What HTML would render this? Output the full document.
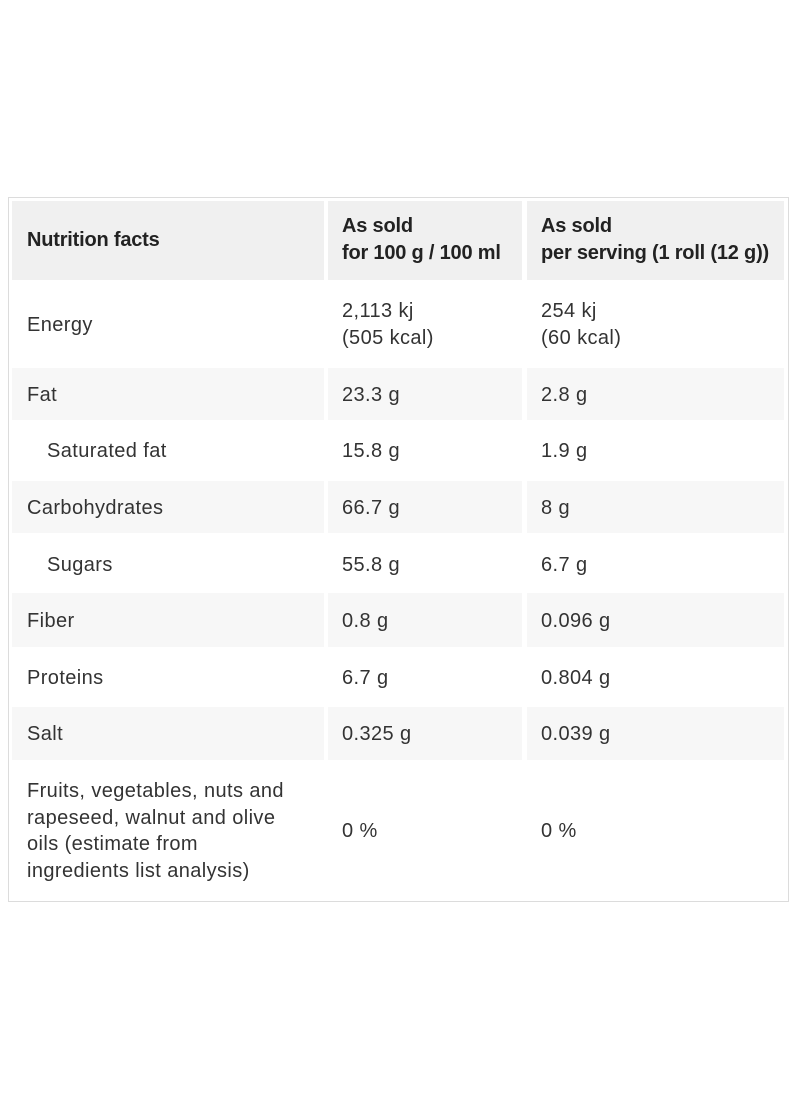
<!DOCTYPE html>
<html><head><meta charset="utf-8"><style>
body{margin:0;width:800px;height:1100px;background:#fff;position:relative;font-family:"Liberation Sans",sans-serif;color:#333;font-size:20px;letter-spacing:0.4px;}
.box{position:absolute;left:8px;top:197px;width:779px;height:703px;border:1px solid #dcdcdc;}
.c{position:absolute;}
.t{position:absolute;white-space:nowrap;line-height:27px;}
.b{font-weight:bold;color:#222;letter-spacing:-0.2px;}
</style></head><body>
<div class="box"></div>
<div class="c" style="left:12px;top:201px;width:312px;height:79px;background:#f0f0f0"></div>
<div class="c" style="left:328px;top:201px;width:194px;height:79px;background:#f0f0f0"></div>
<div class="c" style="left:527px;top:201px;width:257px;height:79px;background:#f0f0f0"></div>
<div class="c" style="left:12px;top:368px;width:772px;height:52px;background:#f7f7f7"></div>
<div class="c" style="left:12px;top:481px;width:772px;height:52px;background:#f7f7f7"></div>
<div class="c" style="left:12px;top:593px;width:772px;height:54px;background:#f7f7f7"></div>
<div class="c" style="left:12px;top:707px;width:772px;height:53px;background:#f7f7f7"></div>
<div class="c" style="left:324px;top:368px;width:4px;height:392px;background:#fff"></div>
<div class="c" style="left:522px;top:368px;width:5px;height:392px;background:#fff"></div>

<div class="t b" style="left:27px;top:227px">Nutrition facts</div>
<div class="t b" style="left:342px;top:213px">As sold<br>for 100 g / 100 ml</div>
<div class="t b" style="left:541px;top:213px">As sold<br>per serving (1 roll (12 g))</div>

<div class="t" style="left:27px;top:312px">Energy</div>
<div class="t" style="left:342px;top:298px">2,113 kj<br>(505 kcal)</div>
<div class="t" style="left:541px;top:298px">254 kj<br>(60 kcal)</div>

<div class="t" style="left:27px;top:382px">Fat</div>
<div class="t" style="left:342px;top:382px">23.3 g</div>
<div class="t" style="left:541px;top:382px">2.8 g</div>

<div class="t" style="left:47px;top:438px">Saturated fat</div>
<div class="t" style="left:342px;top:438px">15.8 g</div>
<div class="t" style="left:541px;top:438px">1.9 g</div>

<div class="t" style="left:27px;top:495px">Carbohydrates</div>
<div class="t" style="left:342px;top:495px">66.7 g</div>
<div class="t" style="left:541px;top:495px">8 g</div>

<div class="t" style="left:47px;top:552px">Sugars</div>
<div class="t" style="left:342px;top:552px">55.8 g</div>
<div class="t" style="left:541px;top:552px">6.7 g</div>

<div class="t" style="left:27px;top:608px">Fiber</div>
<div class="t" style="left:342px;top:608px">0.8 g</div>
<div class="t" style="left:541px;top:608px">0.096 g</div>

<div class="t" style="left:27px;top:665px">Proteins</div>
<div class="t" style="left:342px;top:665px">6.7 g</div>
<div class="t" style="left:541px;top:665px">0.804 g</div>

<div class="t" style="left:27px;top:721px">Salt</div>
<div class="t" style="left:342px;top:721px">0.325 g</div>
<div class="t" style="left:541px;top:721px">0.039 g</div>

<div class="t" style="left:27px;top:778px;line-height:26.7px">Fruits, vegetables, nuts and<br>rapeseed, walnut and olive<br>oils (estimate from<br>ingredients list analysis)</div>
<div class="t" style="left:342px;top:818px">0 %</div>
<div class="t" style="left:541px;top:818px">0 %</div>
</body></html>
